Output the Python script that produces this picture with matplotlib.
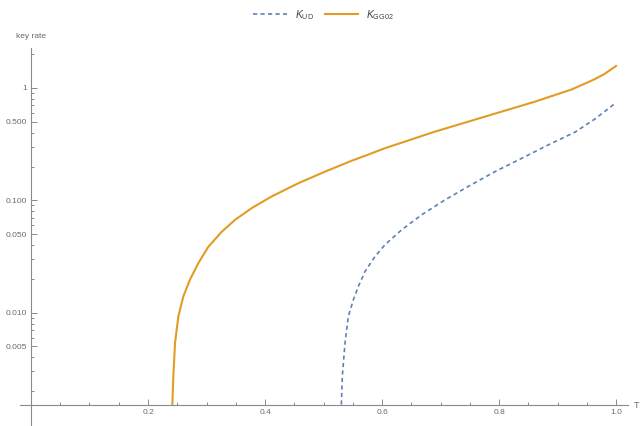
# Key rate vs transmittance T, Mathematica-style log plot
import numpy as np
import matplotlib.pyplot as plt
from matplotlib.lines import Line2D

# Values
T_gg = [0.2416, 0.2433, 0.2462, 0.2519, 0.2604, 0.2718, 0.286, 0.303, 0.326, 0.3487,
        0.377, 0.411, 0.457, 0.5026, 0.548, 0.571, 0.605, 0.6906, 0.776, 0.8615,
        0.924, 0.961, 0.98, 1.0]
K_gg = [0.00152, 0.00272, 0.00537, 0.00927, 0.01396, 0.0197, 0.0276, 0.0385, 0.0525, 0.067,
        0.0851, 0.108, 0.142, 0.180, 0.225, 0.249, 0.291, 0.409, 0.556, 0.756,
        0.97, 1.18, 1.33, 1.57]

T_ud = [0.5305, 0.5322, 0.5368, 0.5425, 0.551, 0.5595, 0.571, 0.588, 0.605, 0.6337,
        0.6678, 0.7077, 0.7476, 0.793, 0.839, 0.884, 0.930, 0.964, 1.0]
K_ud = [0.00152, 0.00272, 0.0054, 0.0093, 0.0130, 0.0171, 0.0233, 0.0316, 0.0402, 0.0547,
        0.0743, 0.101, 0.133, 0.180, 0.237, 0.311, 0.405, 0.53, 0.74]

x_major = [0.2, 0.4, 0.6, 0.8, 1.0]
x_labels = ['0.2', '0.4', '0.6', '0.8', '1.0']
y_major = [1, 0.5, 0.1, 0.05, 0.01, 0.005]
y_labels = ['1', '0.500', '0.100', '0.050', '0.010', '0.005']

# Fonts
plt.rcParams['font.family'] = ['Liberation Sans', 'DejaVu Sans']
plt.rcParams['mathtext.fontset'] = 'custom'
plt.rcParams['mathtext.it'] = 'Liberation Sans:italic'
plt.rcParams['mathtext.rm'] = 'Liberation Sans'

c_blue = '#5E81B5'
c_orange = '#E19C24'
c_axis = '#8a8a8a'
c_text = '#6a6a6a'

fig = plt.figure(figsize=(6.4, 4.26), dpi=100)
ax = fig.add_axes([20/640, 1/426, 608/640, 377/426])

ax.plot(T_ud, K_ud, color=c_blue, lw=1.2, dashes=(2.5, 2))
ax.plot(T_gg, K_gg, color=c_orange, lw=1.5)

ax.set_yscale('log')
ax.set_xlim(-0.0188, 1.0205)
ax.set_ylim(0.001, 2.27)

# Axes crossing like Mathematica
for s in ['top', 'right']:
    ax.spines[s].set_visible(False)
ax.spines['left'].set_position(('data', 0))
ax.spines['bottom'].set_position(('data', 0.00152))
for s in ['left', 'bottom']:
    ax.spines[s].set_color(c_axis)
    ax.spines[s].set_linewidth(0.8)

# Ticks
ax.set_xticks(x_major)
ax.set_xticklabels(x_labels)
ax.set_xticks([v for v in np.arange(0.05, 1.01, 0.05) if min(abs(v - m) for m in x_major) > 1e-6],
              minor=True)
ax.set_yticks(y_major)
ax.set_yticklabels(y_labels)
y_minor = [d * k for d in [0.001, 0.01, 0.1, 1] for k in range(2, 10)]
y_minor = [v for v in y_minor if min(abs(v - m) for m in y_major) > 1e-9 and v < 2.27]
ax.set_yticks(y_minor, minor=True)
ax.yaxis.set_minor_formatter(plt.NullFormatter())

ax.tick_params(which='both', direction='in', colors=c_axis, labelcolor=c_text,
               labelsize=6, width=0.7)
ax.tick_params(which='major', length=4)
ax.tick_params(which='minor', length=2)
ax.tick_params(axis='x', pad=3)
ax.tick_params(axis='y', pad=3)

# Axis labels
fig.text(31/640, 1 - 36/426, 'key rate', ha='center', va='center', fontsize=6, color=c_text)
fig.text(636/640, 1 - 405/426, 'T', ha='center', va='center', fontsize=6.5, color=c_text)

# Legend
handles = [Line2D([], [], color=c_blue, lw=1.2, dashes=(2.5, 2)),
           Line2D([], [], color=c_orange, lw=1.5)]
fig.legend(handles, [r'$K_{\mathrm{UD}}$', r'$K_{\mathrm{GG02}}$'], loc='center',
           bbox_to_anchor=(0.506, 1 - 15/426), ncol=2, frameon=False, fontsize=7.5,
           handlelength=3.2, handletextpad=0.8, columnspacing=1.0, labelcolor='#444444')

plt.savefig('out.png', dpi=100)
